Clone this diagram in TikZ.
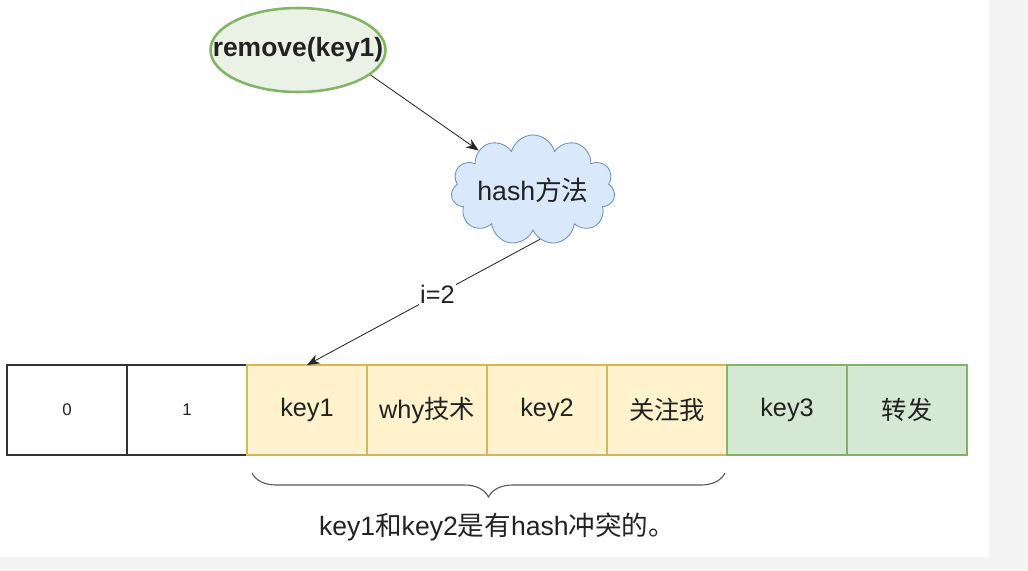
\documentclass[tikz,border=0pt]{standalone}
\usepackage{fontspec}
\setmainfont{Liberation Sans}
\newfontfamily\cjk{Noto Sans CJK SC}
\usetikzlibrary{arrows.meta, shapes.geometric, shapes.symbols, decorations.pathreplacing}
\definecolor{pagegray}{HTML}{F4F4F4}
\definecolor{yelfill}{HTML}{FFF2CC}
\definecolor{yeldraw}{HTML}{D6B656}
\definecolor{grnfill}{HTML}{D5E8D4}
\definecolor{grndraw}{HTML}{82B366}
\definecolor{rmfill}{HTML}{E9F2E5}
\definecolor{bluefill}{HTML}{DAE8FC}
\definecolor{bluedraw}{HTML}{6C8EBF}
\definecolor{ink}{HTML}{222222}

\begin{document}
\begin{tikzpicture}[x=0.025cm, y=-0.025cm,
    cell/.style={draw, line width=0.8pt, minimum width=3cm, minimum height=2.25cm,
                 inner sep=0pt, outer sep=0pt, text=ink, font=\fontsize{18}{21}\selectfont},
    plain/.style={cell, draw=black!80, fill=white, font=\fontsize{12}{14}\selectfont},
    yel/.style={cell, draw=yeldraw, fill=yelfill},
    grn/.style={cell, draw=grndraw, fill=grnfill},
    arrow/.style={-{Stealth[length=9pt, width=7pt]}, line width=0.6pt, black!85},
    brc/.style={decorate, decoration={brace, mirror, amplitude=0.6cm}, line width=0.8pt, black!65},
]
% ===== 背景 =====
\useasboundingbox (0,0) rectangle (1028,571);
\fill[pagegray] (0,0) rectangle (1028,571);
\fill[white] (0,0) rectangle (989,557);

% ===== 调用与 hash =====
\node[ellipse, draw=grndraw, line width=1.8pt, fill=rmfill, minimum width=4.375cm, minimum height=2.1cm,
      inner xsep=-0.6cm, inner ysep=0pt, text=ink, font=\bfseries\fontsize{18.8}{21}\selectfont] (rm) at (298,50) {remove(key1)};
\node[cloud, cloud puffs=11, aspect=1.5, draw=bluedraw, line width=0.6pt, fill=bluefill,
      minimum width=4.1cm, minimum height=2.75cm, inner xsep=-0.35cm, inner ysep=-0.25cm, text=ink,
      font=\fontsize{19}{22}\selectfont] (hash) at (533,190) {hash{\cjk 方法}};

% ===== 数组 =====
\node[plain] (c0)   at (67,410)  {0};
\node[plain] (c1)   at (187,410) {1};
\node[yel]   (key1) at (307,410) {key1};
\node[yel]   (why)  at (427,410) {why{\cjk 技术}};
\node[yel]   (key2) at (547,410) {key2};
\node[yel]   (gz)   at (667,410) {{\cjk 关注我}};
\node[grn]   (key3) at (787,410) {key3};
\node[grn]   (zf)   at (907,410) {{\cjk 转发}};

% ===== 连线 =====
\draw[arrow] (rm.-19) -- (hash.144);
\draw[arrow] (hash.-82) -- (key1.north)
    node[pos=0.44, fill=white, inner sep=1pt, text=ink, font=\fontsize{18}{21}\selectfont] (idx) {i=2};

% ===== 冲突说明 =====
\coordinate (bl) at (252,473);
\coordinate (br) at (725,473);
\draw[brc] (bl) -- (br);
\node[text=ink, font=\fontsize{18.9}{21}\selectfont] (note) at (497,527) {key1{\cjk 和}key2{\cjk 是有}hash{\cjk 冲突的。}};
\end{tikzpicture}
\end{document}
